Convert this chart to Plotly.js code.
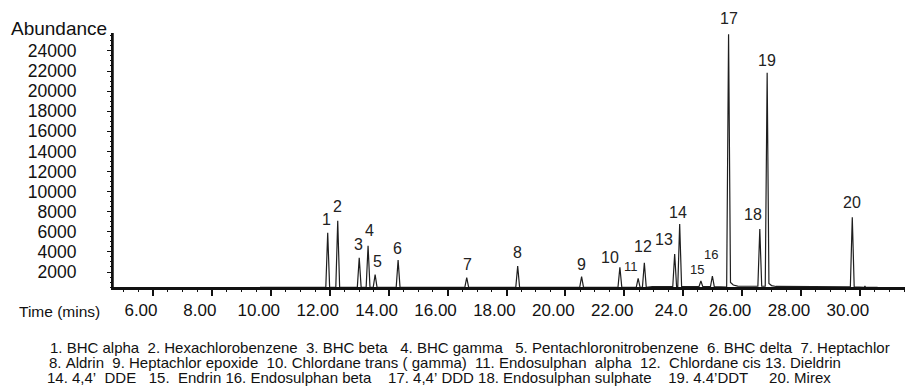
<!DOCTYPE html>
<html>
<head>
<meta charset="utf-8">
<script src="https://cdn.plot.ly/plotly-3.0.1.min.js"></script>
<style>html,body{margin:0;padding:0;background:#fff;}#chart{width:907px;height:389px;}</style>
</head>
<body>
<div id="chart"></div>
<script>
// ---- Data ----
const peakNumbers = [1,2,3,4,5,6,7,8,9,10,11,12,13,14,15,16,17,18,19,20];
const compounds = ["BHC alpha","Hexachlorobenzene","BHC beta","BHC gamma","Pentachloronitrobenzene","BHC delta","Heptachlor","Aldrin","Heptachlor epoxide","Chlordane trans ( gamma)","Endosulphan alpha","Chlordane cis","Dieldrin","4,4’ DDE","Endrin","Endosulphan beta","4,4’ DDD","Endosulphan sulphate","4.4’DDT","Mirex"];
const retentionTimes = [11.93,12.27,13.00,13.30,13.54,14.32,16.65,18.38,20.55,21.85,22.47,22.68,23.71,23.88,24.60,24.99,25.54,26.60,26.85,29.74];
const peakAbundance = [5910,7104,3423,4617,1731,3194,1433,2597,1532,2468,1373,2925,3791,6776,1104,1602,25652,6279,21831,7443];
// baseline (incl. tailing after peaks 17 and 19 and a small unlabelled blip)
const baselineTimes  = [9.63, 12.80, 22.95, 23.60, 25.45, 25.60, 25.70, 25.85, 26.50, 26.91, 27.00, 27.15, 29.60, 30.15, 30.17, 30.19, 30.60];
const baselineValues = [470,  480,   540,   540,   500,   950,   700,   600,   580,   850,   650,   560,   520,   480,   600,   480,   470];

const xTickVals = [6,8,10,12,14,16,18,20,22,24,26,28,30];
const xTickText = ["6.00","8.00","10.00","12.00","14.00","16.00","18.00","20.00","22.00","24.0","26.00","28.00","30.00"];
const yTickVals = [2000,4000,6000,8000,10000,12000,14000,16000,18000,20000,22000,24000];
const yTickText = ["2000","4000","6000","8000","10000","12000","14000","16000","18000","20000","22000","24000"];

const legendLines = [
  "1. BHC alpha  2. Hexachlorobenzene  3. BHC beta   4. BHC gamma   5. Pentachloronitrobenzene  6. BHC delta  7. Heptachlor",
  "8. Aldrin  9. Heptachlor epoxide  10. Chlordane trans ( gamma)  11. Endosulphan  alpha  12.  Chlordane cis 13. Dieldrin",
  "14. 4,4’  DDE   15.  Endrin 16. Endosulphan beta    17. 4,4’ DDD 18. Endosulphan sulphate    19. 4.4’DDT     20. Mirex"
];

// ---- styling / layout (not data) ----
const HALF_WIDTH = 0.065;            // drawn half base width of each peak (min)
const X_LABEL_OFFSET = 0.41;         // x tick labels sit ~12 px left of their tick marks
const smallLabels = [11,15,16];
const labelShift = { // [xshift px, yshift px] of each peak number from its apex
  1:[-1,13],2:[0,14],3:[-1,13],4:[1,15],5:[2,13],6:[-1,12],7:[1,13],8:[0,14],9:[0,12],
  10:[-10,10],11:[-7,12],12:[-1,16],13:[-11,15],14:[-2,12],15:[-4,12],16:[-1,22],
  17:[0,16],18:[-7,15],19:[0,12],20:[0,15]
};

function baseAt(t){
  let v = baselineValues[0];
  for (let i=0;i<baselineTimes.length;i++){ if (baselineTimes[i] <= t) v = baselineValues[i]; }
  return v;
}
let pts = [];
for (let i=0;i<baselineTimes.length;i++) pts.push([baselineTimes[i], baselineValues[i]]);
for (let i=0;i<retentionTimes.length;i++){
  const t = retentionTimes[i];
  pts.push([t-HALF_WIDTH, baseAt(t-HALF_WIDTH)]);
  pts.push([t, peakAbundance[i]]);
  pts.push([t+HALF_WIDTH, baseAt(t+HALF_WIDTH)]);
}
pts.sort((a,b)=>a[0]-b[0]);

const trace = {
  x: pts.map(p=>p[0]), y: pts.map(p=>p[1]),
  type:'scatter', mode:'lines',
  line:{color:'#1e1e1e', width:1.2},
  showlegend:false
};
const helper = (xa, ya) => ({x:[], y:[], xaxis:xa, yaxis:ya, type:'scatter', mode:'lines', showlegend:false});

const L=113, R=905, T=33, B=288;
const W=907, H=389;
const px2x = px => (px-L)/(R-L);
const px2y = py => (B-py)/(B-T);
const FONT = 'Liberation Sans, Arial, sans-serif';
const XR = [4.64, 31.53], YR = [408, 25781];

const annotations = [];
for (let i=0;i<peakNumbers.length;i++){
  const n = peakNumbers[i], s = labelShift[n];
  annotations.push({
    x: retentionTimes[i], y: peakAbundance[i], xref:'x', yref:'y',
    text: String(n), showarrow:false, xanchor:'center', yanchor:'middle',
    xshift:s[0], yshift:s[1],
    font:{family:FONT, size: smallLabels.includes(n)?13:16, color:'#222'}
  });
}
annotations.push({x:px2x(59), y:px2y(28), xref:'paper', yref:'paper', text:'Abundance',
  showarrow:false, xanchor:'center', yanchor:'middle', font:{family:FONT, size:19, color:'#111'}});
annotations.push({x:px2x(59), y:px2y(311), xref:'paper', yref:'paper', text:'Time (mins)',
  showarrow:false, xanchor:'center', yanchor:'middle', font:{family:FONT, size:15.5, color:'#111'}});
const legendLeft = [48, 46.5, 45], legendY = [347, 362, 377.5];
for (let i=0;i<legendLines.length;i++){
  annotations.push({x:px2x(legendLeft[i]), y:px2y(legendY[i]), xref:'paper', yref:'paper',
    text:legendLines[i].replace(/ /g,'\u00a0'), showarrow:false,
    xanchor:'left', yanchor:'middle', font:{family:FONT, size:15, color:'#111'}});
}

const noLabelAxis = {showgrid:false, zeroline:false, showline:false};
const layout = {
  width:W, height:H, margin:{l:L, r:W-R, t:T, b:H-B}, showlegend:false,
  xaxis:{ range:XR, showgrid:false, zeroline:false, showline:true, linecolor:'#111', linewidth:2,
    tickmode:'array', tickvals:xTickVals, showticklabels:false, ticks:'outside', ticklen:6, tickwidth:1.5, tickcolor:'#111' },
  xaxis2:Object.assign({range:XR, overlaying:'x', anchor:'y', side:'bottom', showticklabels:false,
    tickmode:'linear', tick0:0, dtick:0.5, ticks:'outside', ticklen:3, tickwidth:1.2, tickcolor:'#111'}, noLabelAxis),
  xaxis3:Object.assign({range:XR, overlaying:'x', anchor:'y', side:'bottom',
    tickmode:'array', tickvals:xTickVals.map(v=>v-X_LABEL_OFFSET), ticktext:xTickText,
    ticks:'outside', ticklen:7, tickcolor:'rgba(0,0,0,0)',
    tickfont:{family:FONT, size:17, color:'#111'}}, noLabelAxis),
  yaxis:{ range:YR, showgrid:false, zeroline:false, showline:true, linecolor:'#111', linewidth:1.5,
    tickmode:'array', tickvals:yTickVals, showticklabels:false, ticks:'outside', ticklen:4, tickwidth:1.2, tickcolor:'#111' },
  yaxis2:Object.assign({range:YR, overlaying:'y', anchor:'x', side:'left', showticklabels:false,
    tickmode:'linear', tick0:0, dtick:500, ticks:'outside', ticklen:2, tickwidth:1, tickcolor:'#111'}, noLabelAxis),
  yaxis3:Object.assign({range:YR, overlaying:'y', anchor:'x', side:'left',
    tickmode:'array', tickvals:yTickVals, ticktext:yTickText,
    ticks:'outside', ticklen:32, tickcolor:'rgba(0,0,0,0)',
    tickfont:{family:FONT, size:17.5, color:'#111'}}, noLabelAxis),
  // axis frame lines (left and bottom) repeated as shapes
  shapes:[
    {type:'line', xref:'paper', yref:'paper', x0:0, x1:1, y0:0, y1:0, line:{color:'#111', width:2}, layer:'above'},
    {type:'line', xref:'paper', yref:'paper', x0:0, x1:0, y0:0, y1:1, line:{color:'#111', width:1.5}, layer:'above'}
  ],
  annotations: annotations
};

Plotly.newPlot('chart', [trace, helper('x2','y'), helper('x3','y'), helper('x','y2'), helper('x','y3')], layout, {displayModeBar:false});
</script>
</body>
</html>
